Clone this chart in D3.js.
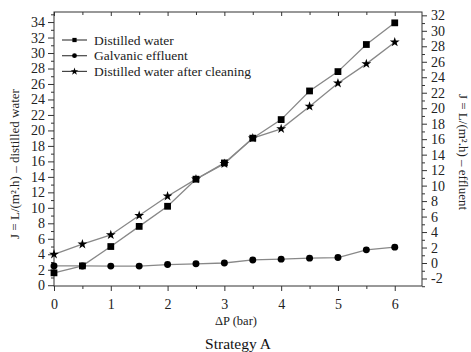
<!DOCTYPE html>
<html>
<head>
<meta charset="utf-8">
<script src="https://cdn.jsdelivr.net/npm/d3@7"></script>
<style>
  body { margin: 0; background: #fff; }
  svg { font-family: "Liberation Serif", "Times New Roman", serif; }
  .axis path, .axis line { stroke: #333; }
  .axis text { fill: #222; font-size: 14px; font-family: "Liberation Serif", "Times New Roman", serif; }
</style>
</head>
<body>
<svg width="471" height="352"></svg>
<script>
var pressure = [0, 0.5, 1, 1.5, 2, 2.5, 3, 3.5, 4, 4.5, 5, 5.5, 6];
var distilled = [1.6, 2.5, 5.0, 7.6, 10.2, 13.7, 15.8, 19.0, 21.4, 25.1, 27.6, 31.1, 33.9];
var galvanic = [-0.38, -0.38, -0.4, -0.4, -0.2, -0.1, 0.0, 0.4, 0.5, 0.63, 0.7, 1.7, 2.05];
var afterCleaning = [4.0, 5.3, 6.5, 9.0, 11.5, 13.7, 15.7, 19.0, 20.2, 23.1, 26.1, 28.6, 31.4];
var xTicks = [0, 1, 2, 3, 4, 5, 6];
var leftTicks = d3.range(0, 35, 2);
var rightTicks = d3.range(-2, 33, 2);

var svg = d3.select("svg");
var plotLeft = 54, plotRight = 422, plotTop = 12, plotBottom = 286;

var x = d3.scaleLinear().domain([0, 6.48]).range([plotLeft, plotRight]);
var yL = d3.scaleLinear().domain([-0.1, 35.3]).range([plotBottom, plotTop]);
var yR = d3.scaleLinear().domain([-2.97, 32.43]).range([plotBottom, plotTop]);
var fmt = function(d) { return String(d); };

// frame
svg.append("rect")
    .attr("x", plotLeft).attr("y", plotTop)
    .attr("width", plotRight - plotLeft).attr("height", plotBottom - plotTop)
    .attr("fill", "none").attr("stroke", "#333").attr("stroke-width", 1);

// minor ticks
function minor(g, axis) { g.call(axis); g.select(".domain").remove(); g.selectAll("text").remove(); }
svg.append("g").attr("class", "axis").attr("transform", "translate(" + plotLeft + ",0)")
    .call(minor, d3.axisLeft(yL).tickValues(d3.range(1, 36, 2)).tickSize(3));
svg.append("g").attr("class", "axis").attr("transform", "translate(" + plotRight + ",0)")
    .call(minor, d3.axisRight(yR).tickValues(d3.range(-3, 33, 2)).tickSize(3));
svg.append("g").attr("class", "axis").attr("transform", "translate(0," + plotBottom + ")")
    .call(minor, d3.axisBottom(x).tickValues(d3.range(0.5, 6.5, 1)).tickSize(3));
svg.append("g").attr("class", "axis").attr("transform", "translate(0," + plotTop + ")")
    .call(minor, d3.axisBottom(x).tickValues(d3.range(0.5, 6.5, 1)).tickSize(3));

// major axes
var gl = svg.append("g").attr("class", "axis").attr("transform", "translate(" + plotLeft + ",0)")
    .call(d3.axisLeft(yL).tickValues(leftTicks).tickFormat(fmt).tickSize(6).tickPadding(3));
gl.select(".domain").remove();
var gr = svg.append("g").attr("class", "axis").attr("transform", "translate(" + plotRight + ",0)")
    .call(d3.axisRight(yR).tickValues(rightTicks).tickFormat(fmt).tickSize(5).tickPadding(4));
gr.select(".domain").remove();
var gb = svg.append("g").attr("class", "axis").attr("transform", "translate(0," + plotBottom + ")")
    .call(d3.axisBottom(x).tickValues(xTicks).tickFormat(fmt).tickSize(5).tickPadding(8));
gb.select(".domain").remove();
var gt = svg.append("g").attr("class", "axis").attr("transform", "translate(0," + plotTop + ")")
    .call(d3.axisBottom(x).tickValues(xTicks).tickSize(4));
gt.select(".domain").remove();
gt.selectAll("text").remove();

// series
var series = [
  {name: "Distilled water", values: distilled, y: yL, shape: d3.symbolSquare, size: 46},
  {name: "Galvanic effluent", values: galvanic, y: yR, shape: d3.symbolCircle, size: 38},
  {name: "Distilled water after cleaning", values: afterCleaning, y: yL, shape: d3.symbolStar, size: 30}
];

series.forEach(function(s) {
  var line = d3.line()
      .x(function(d, i) { return x(pressure[i]); })
      .y(function(d) { return s.y(d); });
  svg.append("path")
      .datum(s.values)
      .attr("d", line)
      .attr("fill", "none")
      .attr("stroke", "#888")
      .attr("stroke-width", 1.3);
});

series.forEach(function(s) {
  svg.selectAll(null)
    .data(s.values)
    .enter()
    .append("path")
      .attr("d", d3.symbol().type(s.shape).size(s.size))
      .attr("transform", function(d, i) { return "translate(" + x(pressure[i]) + "," + s.y(d) + ")"; })
      .attr("fill", "#000");
});

// legend
var legend = svg.append("g").attr("transform", "translate(62,40)");
series.forEach(function(s, i) {
  var row = legend.append("g").attr("transform", "translate(0," + (i * 15.7) + ")");
  row.append("line").attr("x1", 0).attr("x2", 25).attr("stroke", "#444").attr("stroke-width", 1.2);
  row.append("path").attr("d", d3.symbol().type(s.shape).size(18)).attr("transform", "translate(12.5,0)");
  row.append("text").attr("x", 32).attr("y", 4.5).attr("font-size", "13.5px").attr("fill", "#222").text(s.name);
});

// axis titles
svg.append("text")
    .attr("transform", "translate(16,164) rotate(-90)")
    .attr("text-anchor", "middle").attr("dominant-baseline", "middle")
    .attr("font-size", "13px").attr("fill", "#222")
    .text("J = L/(m².h) – distilled water");
svg.append("text")
    .attr("transform", "translate(462,152) rotate(90)")
    .attr("text-anchor", "middle").attr("dominant-baseline", "middle")
    .attr("font-size", "13px").attr("fill", "#222")
    .text("J = L/(m².h) – effluent");
svg.append("text")
    .attr("x", 236).attr("y", 325)
    .attr("text-anchor", "middle").attr("font-size", "12.5px").attr("fill", "#222")
    .text("ΔP (bar)");
svg.append("text")
    .attr("x", 238).attr("y", 349)
    .attr("text-anchor", "middle").attr("font-size", "15.5px").attr("fill", "#111")
    .text("Strategy A");
</script>
</body>
</html>
